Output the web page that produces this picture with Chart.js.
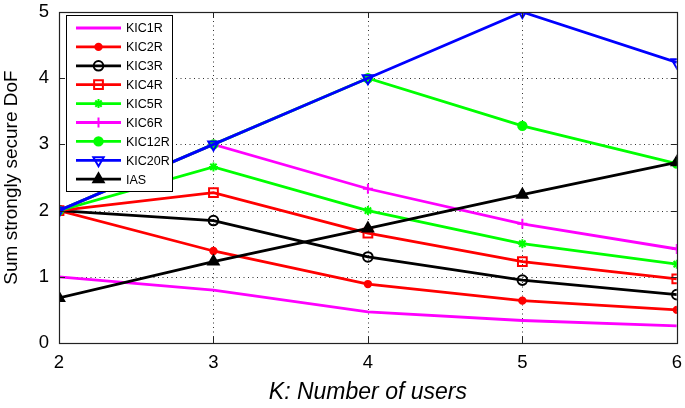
<!DOCTYPE html>
<html>
<head>
<meta charset="utf-8">
<script src="https://cdn.jsdelivr.net/npm/chart.js@4"></script>
<style>
  html, body { margin: 0; padding: 0; background: #fff; }
  #wrap { width: 685px; height: 408px; }
</style>
</head>
<body>
<div id="wrap"><canvas id="dofChart" width="685" height="408"></canvas></div>
<script>
// values
const kValues = [2, 3, 4, 5, 6];
const yTicks = [0, 1, 2, 3, 4, 5];
const kic1r  = [1.00, 0.80, 0.47, 0.34, 0.26];
const kic2r  = [2.00, 1.39, 0.89, 0.64, 0.50];
const kic3r  = [2.00, 1.85, 1.30, 0.95, 0.73];
const kic4r  = [2.00, 2.27, 1.66, 1.23, 0.97];
const kic5r  = [2.00, 2.66, 2.00, 1.50, 1.19];
const kic6r  = [2.00, 3.00, 2.33, 1.80, 1.42];
const kic12r = [2.00, 3.00, 4.00, 3.28, 2.71];
const kic20r = [2.00, 3.00, 4.00, 5.00, 4.24];
const ias    = [0.68, 1.23, 1.73, 2.24, 2.73];

const FONT = '"Liberation Sans", Arial, sans-serif';

function series(label, values, color, style, radius, filled, rotation) {
  return {
    label: label,
    data: values.map((v, i) => ({ x: kValues[i], y: v })),
    borderColor: color,
    backgroundColor: filled ? color : 'rgba(0,0,0,0)',
    pointBorderColor: color,
    pointBackgroundColor: filled ? color : 'rgba(0,0,0,0)',
    borderWidth: 2.8,
    pointBorderWidth: 2,
    pointStyle: style,
    pointRadius: radius,
    pointRotation: rotation || 0,
    tension: 0,
    fill: false
  };
}

const datasets = [
  series('KIC1R', kic1r, '#ff00ff', 'circle', 0, true),
  series('KIC2R', kic2r, '#ff0000', 'circle', 3.2, true),
  series('KIC3R', kic3r, '#000000', 'circle', 4.8, false),
  series('KIC4R', kic4r, '#ff0000', 'rect', 6.2, false),
  series('KIC5R', kic5r, '#00ff00', 'star', 4.5, false),
  series('KIC6R', kic6r, '#ff00ff', 'cross', 5, false),
  series('KIC12R', kic12r, '#00ff00', 'circle', 4.2, true),
  series('KIC20R', kic20r, '#0000ff', 'triangle', 6, false, 180),
  series('IAS', ias, '#000000', 'triangle', 6, true)
];
// later series on top, like the original plot
datasets.forEach((d, i) => { d.order = datasets.length - i; });

const framePlugin = {
  id: 'frame',
  beforeDatasetsDraw(chart) {
    // dotted grid
    const { ctx, chartArea: a, scales } = chart;
    ctx.save();
    ctx.strokeStyle = '#333';
    ctx.lineWidth = 1;
    ctx.setLineDash([1, 3.5]);
    ctx.beginPath();
    kValues.slice(1, -1).forEach(k => {
      const x = Math.round(scales.x.getPixelForValue(k)) + 0.5;
      ctx.moveTo(x, a.top); ctx.lineTo(x, a.bottom);
    });
    yTicks.slice(1, -1).forEach(t => {
      const y = Math.round(scales.y.getPixelForValue(t)) + 0.5;
      ctx.moveTo(a.left, y); ctx.lineTo(a.right, y);
    });
    ctx.stroke();
    ctx.restore();
  },
  afterDatasetsDraw(chart) {
    const { ctx, chartArea: a, scales } = chart;
    ctx.save();
    ctx.strokeStyle = '#222';
    ctx.lineWidth = 1;
    ctx.beginPath();
    kValues.forEach(k => {
      const x = Math.round(scales.x.getPixelForValue(k)) + 0.5;
      ctx.moveTo(x, a.bottom); ctx.lineTo(x, a.bottom - 6);
      ctx.moveTo(x, a.top); ctx.lineTo(x, a.top + 6);
    });
    yTicks.forEach(t => {
      const y = Math.round(scales.y.getPixelForValue(t)) + 0.5;
      ctx.moveTo(a.left, y); ctx.lineTo(a.left + 6, y);
      ctx.moveTo(a.right, y); ctx.lineTo(a.right - 6, y);
    });
    ctx.stroke();
    ctx.lineWidth = 1.2;
    ctx.strokeRect(Math.round(a.left) + 0.5, Math.round(a.top) + 0.5,
                   Math.round(a.right - a.left), Math.round(a.bottom - a.top));

    // legend box in the upper left
    const bx = 66.5, by = 15.5, bw = 106, bh = 176, rowH = 18.9;
    ctx.fillStyle = '#fff';
    ctx.fillRect(bx, by, bw, bh);
    ctx.strokeStyle = '#000';
    ctx.lineWidth = 1;
    ctx.strokeRect(bx, by, bw, bh);
    chart.data.datasets.forEach((d, i) => {
      const y = 28 + i * rowH;
      ctx.strokeStyle = d.borderColor;
      ctx.lineWidth = 2.8;
      ctx.beginPath();
      ctx.moveTo(76, y); ctx.lineTo(121, y);
      ctx.stroke();
      if (d.pointRadius > 0) {
        ctx.fillStyle = d.pointBackgroundColor;
        ctx.strokeStyle = d.pointBorderColor;
        ctx.lineWidth = d.pointBorderWidth;
        Chart.helpers.drawPoint(ctx, {
          pointStyle: d.pointStyle, radius: d.pointRadius,
          rotation: d.pointRotation, borderWidth: d.pointBorderWidth
        }, 98.5, y);
      }
      ctx.fillStyle = '#000';
      ctx.font = '12.5px ' + FONT;
      ctx.textBaseline = 'middle';
      ctx.textAlign = 'left';
      ctx.fillText(d.label, 126, y + 1);
    });
    ctx.restore();
  }
};

new Chart(document.getElementById('dofChart'), {
  type: 'line',
  data: { datasets: datasets },
  options: {
    responsive: false,
    animation: false,
    layout: { padding: { top: 12, right: 6, left: 0, bottom: 0 } },
    plugins: {
      legend: { display: false },
      tooltip: { enabled: false }
    },
    scales: {
      x: {
        type: 'linear',
        min: 2, max: 6,
        afterFit(scale) { scale.height = 65; scale.paddingLeft = 0; scale.paddingRight = 0; },
        afterBuildTicks(scale) { scale.ticks = kValues.map(v => ({ value: v })); },
        grid: { display: false, drawTicks: false },
        border: { display: false },
        ticks: { color: '#000', font: { family: FONT, size: 18.5 }, padding: 9 },
        title: {
          display: true, text: 'K: Number of users', color: '#000',
          font: { family: FONT, size: 23, style: 'italic' }, padding: { top: 4, bottom: 2 }
        }
      },
      y: {
        min: 0, max: 5,
        afterFit(scale) { scale.width = 59; scale.paddingTop = 0; scale.paddingBottom = 0; },
        afterBuildTicks(scale) { scale.ticks = yTicks.map(v => ({ value: v })); },
        grid: { display: false, drawTicks: false },
        border: { display: false },
        ticks: { color: '#000', font: { family: FONT, size: 18.5 }, padding: 10 },
        title: {
          display: true, text: 'Sum strongly secure DoF', color: '#000',
          font: { family: FONT, size: 19 }, padding: { bottom: 4, top: 0 }
        }
      }
    }
  },
  plugins: [framePlugin]
});
</script>
</body>
</html>
